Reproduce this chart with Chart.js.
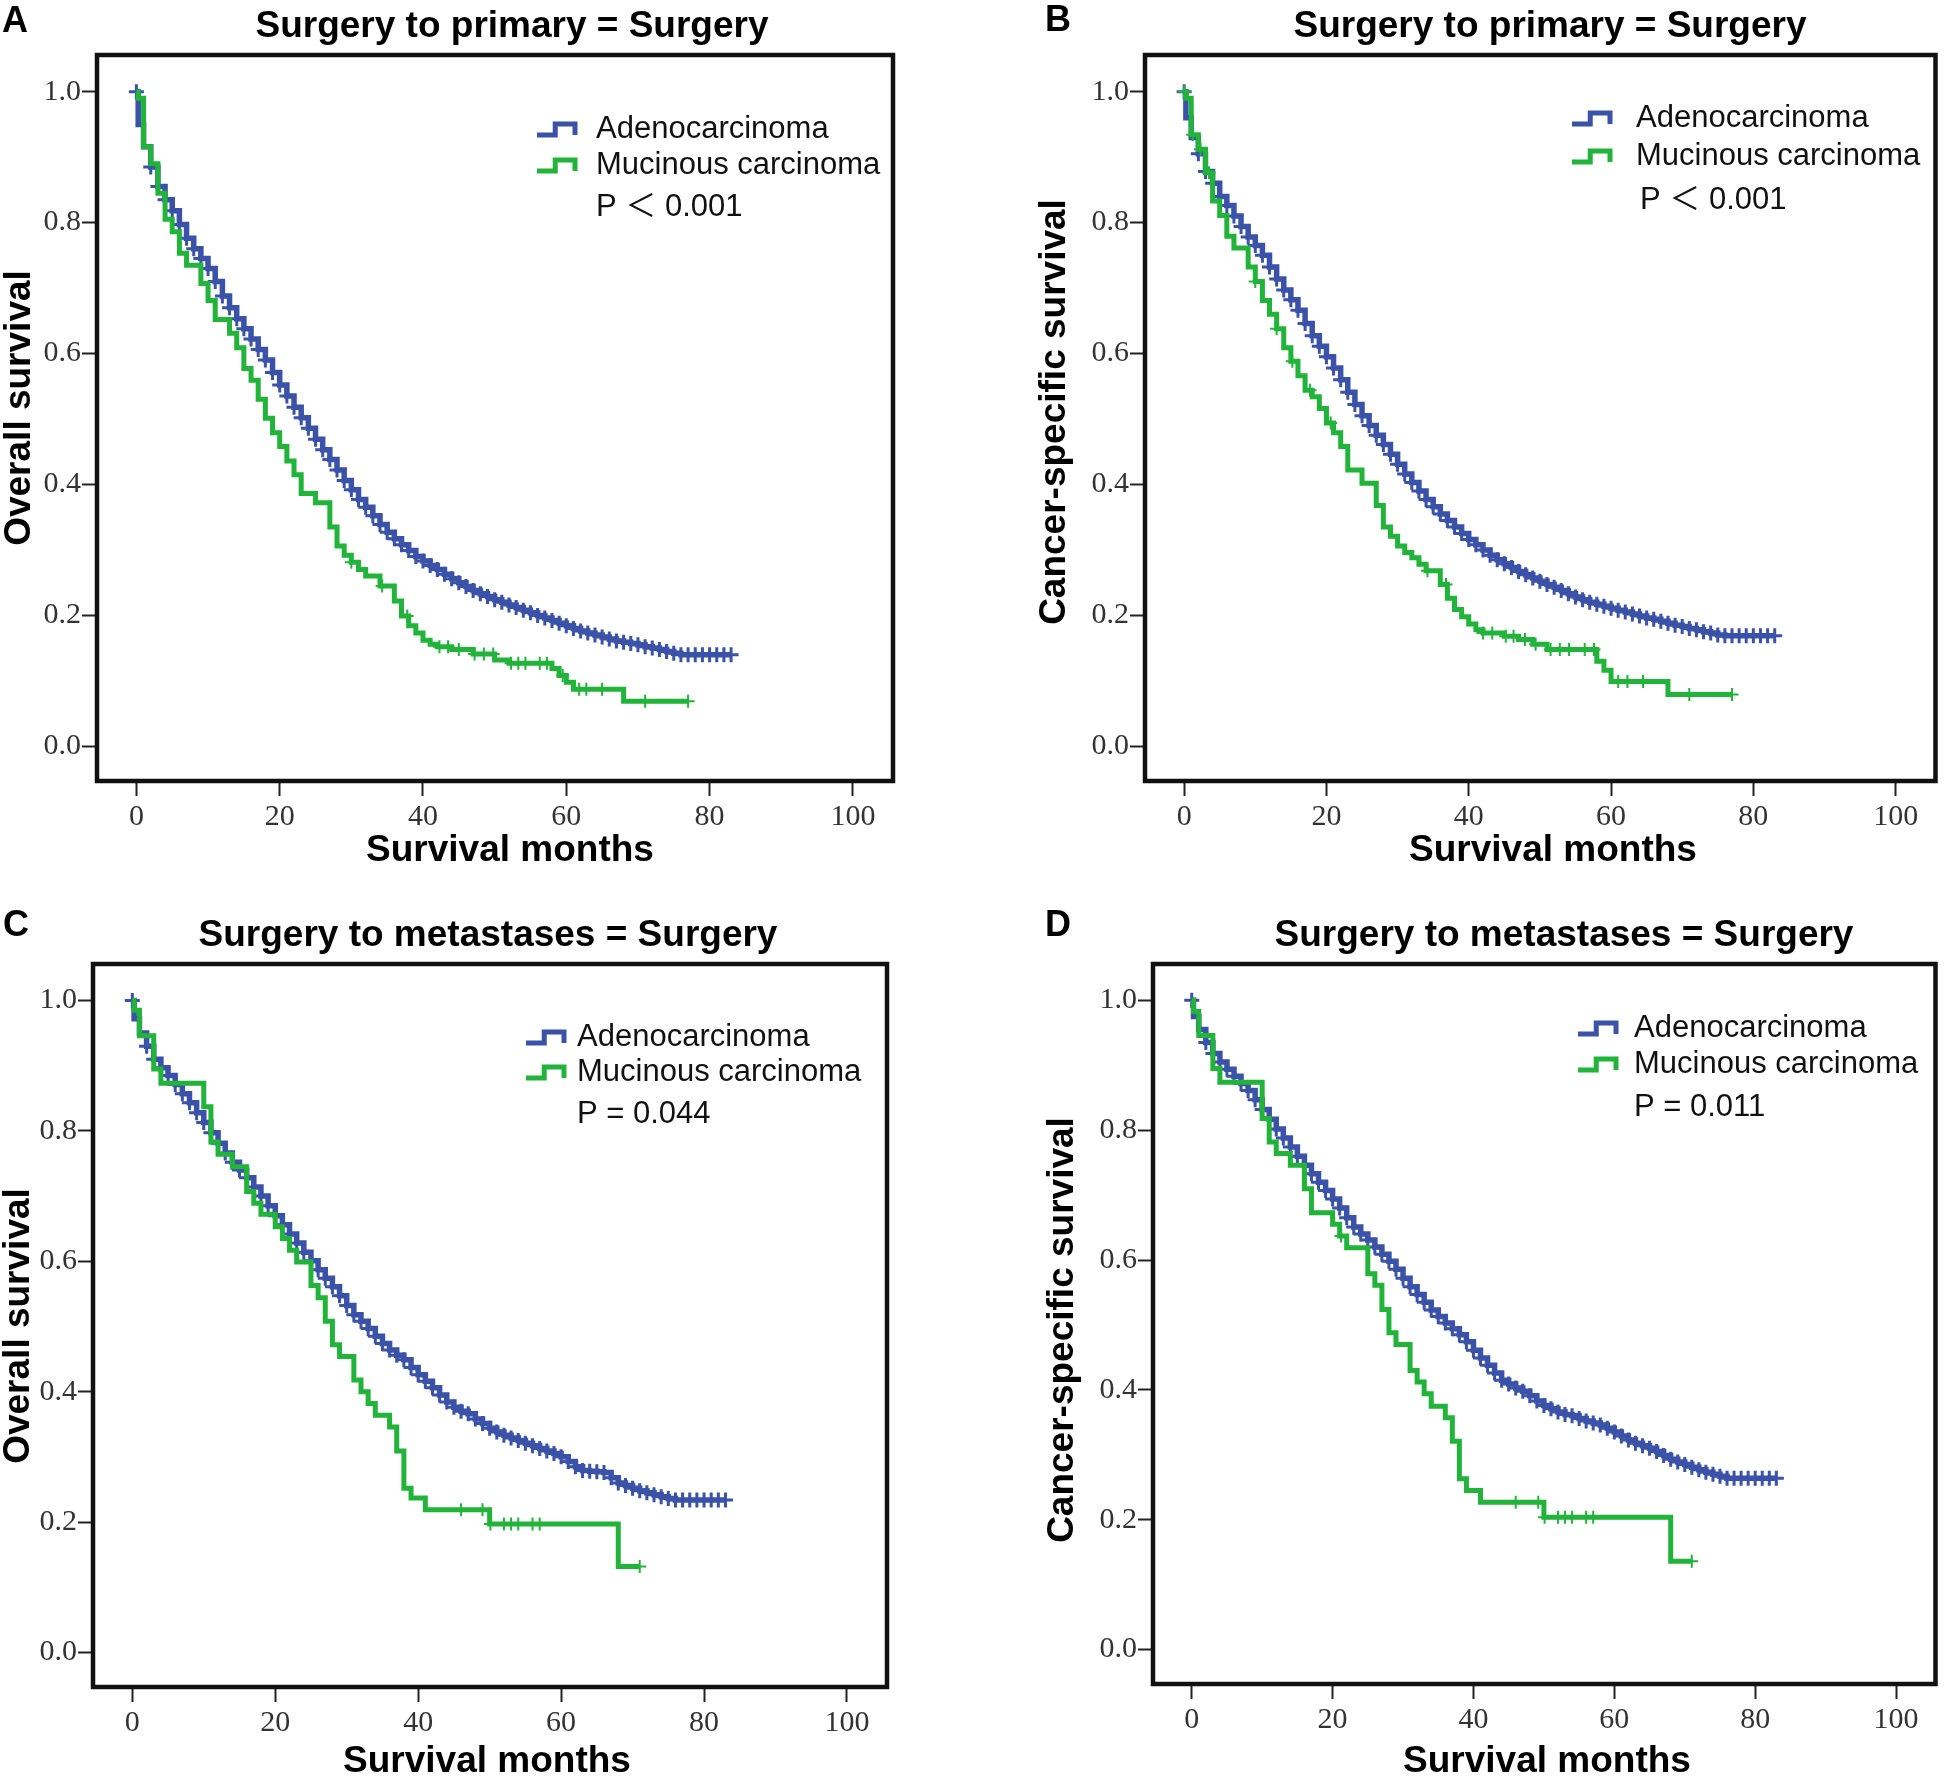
<!DOCTYPE html>
<html>
<head>
<meta charset="utf-8">
<script src="https://cdn.jsdelivr.net/npm/chart.js@4.4.0/dist/chart.umd.min.js"></script>
<style>
  body { margin: 0; background: #fff; width: 1946px; height: 1782px; position: relative; overflow: hidden; }
  canvas { position: absolute; }
</style>
</head>
<body>
<canvas id="pA" width="973" height="891" style="left:0;top:0"></canvas>
<canvas id="pB" width="973" height="891" style="left:973px;top:0"></canvas>
<canvas id="pC" width="973" height="891" style="left:0;top:891px"></canvas>
<canvas id="pD" width="973" height="891" style="left:973px;top:891px"></canvas>
<script>
// --- data ---
const xTicks = [0, 20, 40, 60, 80, 100]
const yTicks = [0, 0.2, 0.4, 0.6, 0.8, 1.0]

// adenocarcinoma steps share one month grid (SEER months are whole numbers)
const adenoMonths = [0, 0.25, 1, 2, 3, 4, 5, 6, 7, 8, 9, 10, 11, 12, 13, 14, 15, 16, 17, 18, 19, 20,
  21, 22, 23, 24, 25, 26, 27, 28, 29, 30, 31, 32, 33, 34, 35, 36, 37, 38, 39, 40,
  41, 42, 43, 44, 45, 46, 47, 48, 49, 50, 51, 52, 53, 54, 55, 56, 57, 58, 59, 60,
  61, 62, 63, 64, 65, 66, 67, 68, 69, 70, 71, 72, 73, 74, 75, 76, 83]
const adenoCensor = [0, 2, 3, 4, 5, 6, 7, 8, 9, 10, 11, 12, 13, 14, 15, 16, 17, 18, 19, 20,
  21, 22, 23, 24, 25, 26, 27, 28, 29, 30, 31, 32, 33, 34, 35, 36, 37, 38, 39, 40,
  41, 42, 43, 44, 45, 46, 47, 48, 49, 50, 51, 52, 53, 54, 55, 56, 57, 58, 59, 60,
  61, 62, 63, 64, 65, 66, 67, 68, 69, 70, 71, 72, 73, 74, 75, 76, 77, 78, 79, 80, 81, 82, 83]

const adenoA = [1.0, 0.95,
  0.916, 0.885, 0.855, 0.835, 0.818, 0.797, 0.776, 0.76, 0.745, 0.73,
  0.71, 0.688, 0.67, 0.653, 0.638, 0.622, 0.606, 0.59, 0.571, 0.552,
  0.535, 0.518, 0.502, 0.486, 0.469, 0.453, 0.438, 0.422, 0.406, 0.392,
  0.377, 0.365, 0.352, 0.339, 0.327, 0.317, 0.308, 0.299, 0.29, 0.283,
  0.276, 0.27, 0.263, 0.256, 0.25, 0.244, 0.238, 0.233, 0.229, 0.224,
  0.22, 0.216, 0.212, 0.208, 0.204, 0.2, 0.196, 0.192, 0.188, 0.184,
  0.18, 0.176, 0.173, 0.17, 0.167, 0.164, 0.161, 0.159, 0.157, 0.155,
  0.152, 0.15, 0.148, 0.145, 0.142, 0.14, 0.14]
const adenoB = [1.0, 0.96,
  0.93, 0.905, 0.878, 0.86, 0.84, 0.826, 0.81, 0.794, 0.778, 0.765,
  0.75, 0.732, 0.714, 0.697, 0.682, 0.666, 0.646, 0.627, 0.611, 0.595,
  0.578, 0.56, 0.541, 0.522, 0.505, 0.49, 0.475, 0.461, 0.446, 0.431,
  0.416, 0.403, 0.39, 0.377, 0.366, 0.355, 0.345, 0.335, 0.325, 0.316,
  0.308, 0.3, 0.292, 0.285, 0.279, 0.273, 0.267, 0.262, 0.257, 0.252,
  0.247, 0.243, 0.238, 0.233, 0.228, 0.224, 0.22, 0.217, 0.214, 0.211,
  0.208, 0.205, 0.202, 0.199, 0.196, 0.194, 0.191, 0.188, 0.185, 0.183,
  0.18, 0.178, 0.175, 0.173, 0.17, 0.169, 0.169]
const adenoC = [1.0, 0.972,
  0.95, 0.93, 0.91, 0.897, 0.885, 0.871, 0.857, 0.843, 0.828, 0.813,
  0.797, 0.781, 0.766, 0.752, 0.74, 0.728, 0.714, 0.7, 0.685, 0.67,
  0.656, 0.642, 0.628, 0.614, 0.601, 0.587, 0.574, 0.561, 0.547, 0.532,
  0.518, 0.508, 0.497, 0.485, 0.474, 0.464, 0.456, 0.449, 0.437, 0.426,
  0.416, 0.406, 0.395, 0.384, 0.376, 0.37, 0.366, 0.358, 0.351, 0.344,
  0.338, 0.333, 0.329, 0.325, 0.321, 0.317, 0.313, 0.309, 0.305, 0.3,
  0.293, 0.285, 0.279, 0.278, 0.277, 0.276, 0.268, 0.26, 0.256, 0.252,
  0.248, 0.245, 0.242, 0.239, 0.236, 0.234, 0.234]
const adenoD = [1.0, 0.975,
  0.955, 0.935, 0.918, 0.905, 0.894, 0.883, 0.872, 0.861, 0.847, 0.832,
  0.817, 0.802, 0.788, 0.774, 0.76, 0.746, 0.733, 0.72, 0.707, 0.694,
  0.68, 0.665, 0.651, 0.64, 0.631, 0.62, 0.609, 0.598, 0.586, 0.572,
  0.559, 0.547, 0.535, 0.523, 0.513, 0.503, 0.494, 0.485, 0.474, 0.461,
  0.449, 0.438, 0.426, 0.415, 0.409, 0.403, 0.398, 0.391, 0.383, 0.376,
  0.371, 0.366, 0.362, 0.36, 0.356, 0.352, 0.349, 0.346, 0.341, 0.335,
  0.329, 0.323, 0.318, 0.314, 0.31, 0.305, 0.299, 0.293, 0.289, 0.285,
  0.281, 0.277, 0.273, 0.27, 0.267, 0.264, 0.264]

const mucMonthsA = [0, 0.25, 1, 2, 3, 4, 5, 6, 7, 9, 10, 11, 13, 14, 15, 16, 17, 18, 19, 20, 21, 22, 23,
  25, 27, 28, 29, 30, 31, 32, 34, 36, 37, 38, 39, 40, 41, 42, 44, 47, 50, 52, 58, 59, 60, 61, 68, 77]
const mucA = [1.0, 0.99, 0.916, 0.89, 0.845, 0.805, 0.786, 0.753, 0.735, 0.707, 0.681, 0.652,
  0.631, 0.609, 0.577, 0.559, 0.53, 0.501, 0.479, 0.458, 0.436, 0.415, 0.386,
  0.372, 0.335, 0.306, 0.292, 0.281, 0.27, 0.26, 0.245, 0.222, 0.199, 0.184, 0.173, 0.162, 0.156, 0.152,
  0.148, 0.141, 0.132, 0.127, 0.119, 0.108, 0.098, 0.087, 0.069, 0.069]
const mucCensorA = [30, 34.3, 37.8, 42.3, 43.5, 45, 47.2, 48.5, 49.8, 52.3, 53.3, 54.3, 56.3, 57.3,
  59.5, 61.8, 62.8, 65, 71, 77]

const mucMonthsB = [0, 0.25, 1, 2, 3, 4, 5, 6, 7, 9, 10, 11, 12, 13, 14, 15, 16, 17, 18, 19, 20, 21, 22, 23,
  25, 27, 28, 29, 30, 31, 32, 33, 34, 36, 37, 38, 39, 40, 41, 42, 45, 47, 49, 51, 58, 59, 60, 68, 77]
const mucB = [1.0, 0.99, 0.934, 0.912, 0.876, 0.833, 0.811, 0.779, 0.761,
  0.732, 0.71, 0.681, 0.66, 0.638, 0.609, 0.588, 0.566, 0.544, 0.534, 0.516, 0.494, 0.479, 0.458, 0.422,
  0.402, 0.368, 0.335, 0.321, 0.306, 0.296, 0.288, 0.278, 0.268,
  0.247, 0.226, 0.209, 0.198, 0.187, 0.178, 0.173, 0.168, 0.163, 0.156, 0.148,
  0.13, 0.116, 0.099, 0.079, 0.079]
const mucCensorB = [0, 1.2, 2.3, 3.5, 10, 13, 15.2, 17.7, 20.6, 34.2, 36.8, 42, 43.3, 45.2, 46.3, 47.9,
  49.4, 51.5, 52.8, 54.1, 56.3, 57.6, 61, 62.3, 64.5, 71, 77]

const mucMonthsC = [0, 0.25, 1, 3, 4, 10, 11, 12, 14, 16, 17, 18, 20, 21, 22, 23, 25, 26, 27, 28, 29,
  31, 32, 33, 34, 36, 37, 38, 39, 41, 50, 68, 71]
const mucC = [1.0, 0.985, 0.946, 0.895, 0.873, 0.837, 0.783, 0.764, 0.745, 0.707, 0.689, 0.672,
  0.653, 0.635, 0.617, 0.599, 0.563, 0.544, 0.508, 0.472, 0.454,
  0.418, 0.4, 0.382, 0.364, 0.346, 0.309, 0.252, 0.237, 0.219, 0.197, 0.132, 0.132]
const mucCensorC = [46, 49, 50.1, 52, 53, 54, 56, 57, 71]

const mucMonthsD = [0, 0.25, 1, 3, 4, 10, 11, 12, 14, 16, 17, 20, 21, 22, 25, 26, 27, 28, 29,
  31, 32, 33, 34, 36, 37, 38, 39, 41, 50, 68, 71]
const mucD = [1.0, 0.983, 0.946, 0.895, 0.874, 0.818, 0.782, 0.764, 0.746, 0.71, 0.673,
  0.655, 0.637, 0.619, 0.579, 0.561, 0.524, 0.488, 0.47,
  0.43, 0.412, 0.394, 0.375, 0.357, 0.321, 0.263, 0.245, 0.227, 0.204, 0.136, 0.136]
const mucCensorD = [21.2, 46, 49.2, 50.1, 52, 53, 54, 56, 57, 71]

const groupNames = ['Adenocarcinoma', 'Mucinous carcinoma']
const pValues = ['P \uFF1C 0.001', 'P \uFF1C 0.001', 'P = 0.044', 'P = 0.011']

// --- styling ---
const BLUE = '#3a52a8'
const GREEN = '#22b33a'
const SANS = '"Liberation Sans", Arial, "Noto Sans CJK SC", sans-serif'
const SERIF = '"Liberation Serif", "Times New Roman", serif'

const survAt = (months, surv, t) => {
  let v = surv[0]
  for (let i = 0; i < months.length; i++) {
    if (months[i] <= t) v = surv[i]
  }
  return v
}

const kmLine = (label, months, surv, color, width, order) => ({
  label: label,
  data: months.map((m, i) => ({ x: m, y: surv[i] })),
  stepped: true,
  borderColor: color,
  borderWidth: width,
  pointRadius: 0,
  fill: false,
  order: order
})

const censorMarks = (label, times, months, surv, color, r, w, order) => ({
  label: label,
  data: times.map(t => ({ x: t, y: survAt(months, surv, t) })),
  showLine: false,
  pointStyle: 'cross',
  pointRadius: r,
  pointBorderWidth: w,
  pointBorderColor: color,
  borderColor: color,
  order: order
})

// draws the frame, panel letter, titles and the in-plot legend
const decor = {
  id: 'decor',
  afterDatasetsDraw(chart, args, o) {
    const ctx = chart.ctx
    const a = chart.chartArea
    ctx.save()
    ctx.strokeStyle = '#111'
    ctx.lineWidth = 4.5
    ctx.strokeRect(a.left, a.top, a.right - a.left, a.bottom - a.top)

    ctx.fillStyle = '#000'
    ctx.textBaseline = 'middle'
    ctx.textAlign = 'left'
    ctx.font = 'bold 36px ' + SANS
    ctx.fillText(o.letter, o.letterX, o.letterY)

    ctx.textAlign = 'center'
    ctx.font = 'bold 37px ' + SANS
    ctx.fillText(o.title, o.titleX, o.titleY)

    ctx.font = 'bold 37px ' + SANS
    ctx.fillText('Survival months', o.xTitleX, o.xTitleY)
    ctx.save()
    ctx.translate(o.yTitleX, o.yTitleY)
    ctx.rotate(-Math.PI / 2)
    ctx.fillText(o.yTitle, 0, 0)
    ctx.restore()

    // legend: small step icon + label
    const colors = [BLUE, GREEN]
    ctx.textAlign = 'left'
    ctx.font = '31px ' + SANS
    o.rows.forEach((y, i) => {
      const x0 = o.iconX, w = 38, mid = x0 + w * 0.48
      ctx.strokeStyle = colors[i]
      ctx.lineWidth = 5
      ctx.beginPath()
      ctx.moveTo(x0, y + 6)
      ctx.lineTo(mid, y + 6)
      ctx.lineTo(mid, y - 5)
      ctx.lineTo(x0 + w, y - 5)
      ctx.lineTo(x0 + w, y + 6)
      ctx.stroke()
      ctx.fillStyle = '#111'
      ctx.fillText(groupNames[i], o.textX, y)
    })
    ctx.fillText(o.p, o.pX, o.pY)
    ctx.restore()
  }
}

const panels = [
  { id: 'pA', adeno: adenoA, mucMonths: mucMonthsA, muc: mucA, mucCensor: mucCensorA,
    box: { left: 97, right: 893, top: 55, bottom: 781 },
    text: { letter: 'A', letterX: 2, letterY: 22, title: 'Surgery to primary = Surgery', titleX: 512, titleY: 27,
      xTitleX: 510, xTitleY: 851, yTitle: 'Overall survival', yTitleX: 20, yTitleY: 408,
      iconX: 537, textX: 596, rows: [129, 165], p: pValues[0], pX: 596, pY: 207 } },
  { id: 'pB', adeno: adenoB, mucMonths: mucMonthsB, muc: mucB, mucCensor: mucCensorB,
    box: { left: 172, right: 968, top: 55, bottom: 781 },
    text: { letter: 'B', letterX: 72, letterY: 21, title: 'Surgery to primary = Surgery', titleX: 577, titleY: 27,
      xTitleX: 580, xTitleY: 851, yTitle: 'Cancer-specific survival', yTitleX: 82, yTitleY: 412,
      iconX: 599, textX: 663, rows: [118, 156], p: pValues[1], pX: 667, pY: 200 } },
  { id: 'pC', adeno: adenoC, mucMonths: mucMonthsC, muc: mucC, mucCensor: mucCensorC,
    box: { left: 93, right: 887, top: 73, bottom: 796 },
    text: { letter: 'C', letterX: 3, letterY: 35, title: 'Surgery to metastases = Surgery', titleX: 488, titleY: 45,
      xTitleX: 487, xTitleY: 871, yTitle: 'Overall survival', yTitleX: 19, yTitleY: 435,
      iconX: 526, textX: 577, rows: [146, 181], p: pValues[2], pX: 577, pY: 223 } },
  { id: 'pD', adeno: adenoD, mucMonths: mucMonthsD, muc: mucD, mucCensor: mucCensorD,
    box: { left: 180, right: 967, top: 73, bottom: 793 },
    text: { letter: 'D', letterX: 72, letterY: 35, title: 'Surgery to metastases = Surgery', titleX: 591, titleY: 45,
      xTitleX: 574, xTitleY: 871, yTitle: 'Cancer-specific survival', yTitleX: 90, yTitleY: 439,
      iconX: 605, textX: 661, rows: [137, 173], p: pValues[3], pX: 661, pY: 216 } }
]

const W = 973, H = 891

panels.forEach(p => {
  new Chart(document.getElementById(p.id), {
    type: 'line',
    data: {
      datasets: [
        censorMarks('Mucinous censored', p.mucCensor, p.mucMonths, p.muc, GREEN, 6.5, 2, 1),
        kmLine(groupNames[1], p.mucMonths, p.muc, GREEN, 5, 2),
        censorMarks('Adeno censored', adenoCensor, adenoMonths, p.adeno, BLUE, 7.5, 3, 3),
        kmLine(groupNames[0], adenoMonths, p.adeno, BLUE, 5.5, 4)
      ]
    },
    options: {
      responsive: false,
      animation: false,
      devicePixelRatio: 1,
      layout: { padding: { left: 0, top: p.box.top, right: W - p.box.right, bottom: 0 } },
      plugins: {
        legend: { display: false },
        tooltip: { enabled: false },
        decor: p.text
      },
      scales: {
        x: {
          type: 'linear',
          min: -5.5,
          max: 105.6,
          afterBuildTicks: s => { s.ticks = xTicks.map(v => ({ value: v })) },
          afterFit: s => { s.height = H - p.box.bottom },
          border: { display: false },
          grid: { drawOnChartArea: false, drawTicks: true, tickLength: 15, tickWidth: 2, tickColor: '#222' },
          ticks: { autoSkip: false, maxRotation: 0, padding: 3, color: '#333',
            font: { family: SERIF, size: 30 }, callback: v => String(v) }
        },
        y: {
          min: -0.053,
          max: 1.056,
          afterBuildTicks: s => { s.ticks = yTicks.map(v => ({ value: v })) },
          afterFit: s => { s.width = p.box.left },
          border: { display: false },
          grid: { drawOnChartArea: false, drawTicks: true, tickLength: 15, tickWidth: 2, tickColor: '#222' },
          ticks: { padding: 1, color: '#333', font: { family: SERIF, size: 30 },
            callback: v => v.toFixed(1) }
        }
      }
    },
    plugins: [decor]
  })
})
</script>
</body>
</html>
